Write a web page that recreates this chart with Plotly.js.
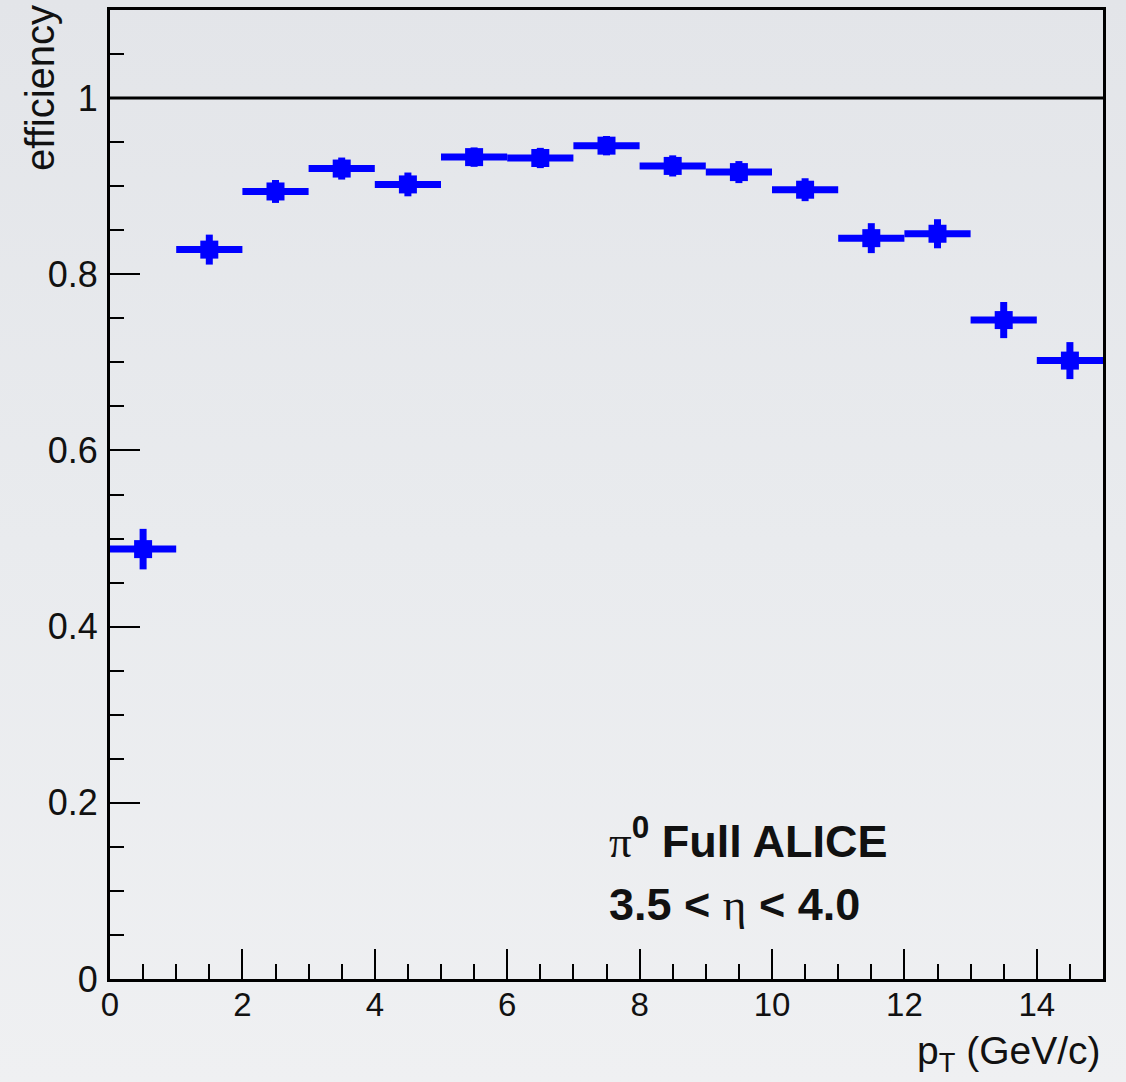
<!DOCTYPE html>
<html>
<head>
<meta charset="utf-8">
<script src="https://cdn.plot.ly/plotly-3.0.1.min.js"></script>
<style>
  html, body { margin: 0; padding: 0; }
  body { width: 1126px; height: 1082px; background: linear-gradient(to bottom, #e3e5e9 0%, #e9ebee 50%, #eff0f2 100%); }
  #chart { width: 1126px; height: 1082px; }
</style>
</head>
<body>
<div id="chart"></div>
<script>
// pT bin centres (GeV/c), bin half-widths, efficiency values and their errors
const ptCenters = [0.5, 1.5, 2.5, 3.5, 4.5, 5.5, 6.5, 7.5, 8.5, 9.5, 10.5, 11.5, 12.5, 13.5, 14.5];
const ptHalfWidth = [0.5, 0.5, 0.5, 0.5, 0.5, 0.5, 0.5, 0.5, 0.5, 0.5, 0.5, 0.5, 0.5, 0.5, 0.5];
const efficiency = [0.488, 0.828, 0.894, 0.920, 0.902, 0.933, 0.932, 0.946, 0.923, 0.916, 0.896, 0.841, 0.846, 0.748, 0.702];
const efficiencyErr = [0.023, 0.017, 0.013, 0.0125, 0.0135, 0.011, 0.0115, 0.011, 0.012, 0.0125, 0.013, 0.017, 0.0165, 0.0205, 0.021];
const referenceLevel = 1;
const xRange = [0, 15];
const yRange = [0, 1.1];

const trace = {
  type: 'scatter',
  mode: 'markers',
  x: ptCenters,
  y: efficiency,
  marker: { symbol: 'square', size: 18, color: '#0000ff', line: { width: 0 } },
  error_x: { type: 'data', array: ptHalfWidth, visible: true, thickness: 7, width: 0, color: '#0000ff' },
  error_y: { type: 'data', array: efficiencyErr, visible: true, thickness: 7, width: 0, color: '#0000ff' },
  showlegend: false,
  hoverinfo: 'x+y'
};

const axisCommon = {
  showgrid: false,
  zeroline: false,
  showline: true,
  mirror: true,
  linecolor: '#000',
  linewidth: 3,
  ticks: 'inside',
  tickcolor: '#000',
  tickwidth: 2,
  ticklen: 30,
};

const layout = {
  width: 1126,
  height: 1082,
  margin: { l: 110, r: 23, t: 10, b: 103 },
  paper_bgcolor: 'rgba(0,0,0,0)',
  plot_bgcolor: 'rgba(0,0,0,0)',
  font: { family: 'Liberation Sans, Arial, Helvetica, sans-serif', color: '#000' },
  xaxis: Object.assign({}, axisCommon, {
    range: xRange,
    dtick: 2,
    tick0: 0,
    tickfont: { size: 33, family: 'Liberation Sans, Arial, sans-serif', color: '#111' },
    minor: { dtick: 0.5, ticklen: 15, tickwidth: 2, tickcolor: '#000', ticks: 'inside' },
    ticklabelstandoff: -6
  }),
  yaxis: Object.assign({}, axisCommon, {
    range: yRange,
    dtick: 0.2,
    tick0: 0,
    tickfont: { size: 36, family: 'Liberation Sans, Arial, sans-serif', color: '#111' },
    minor: { dtick: 0.05, ticklen: 14, tickwidth: 2, tickcolor: '#000', ticks: 'inside' },
    ticklabelstandoff: 2
  }),
  shapes: [{
    type: 'line', xref: 'paper', x0: 0, x1: 1, yref: 'y', y0: referenceLevel, y1: referenceLevel,
    line: { color: '#000', width: 3 }
  }],
  annotations: [
    {
      text: 'efficiency', textangle: -90,
      xref: 'paper', x: 0, xanchor: 'right', xshift: -46,
      yref: 'paper', y: 1, yanchor: 'top', yshift: 7,
      showarrow: false, font: { size: 40, color: '#111' }
    },
    {
      text: 'p<sub>T</sub> (GeV/c)',
      xref: 'paper', x: 1, xanchor: 'right', xshift: 0,
      yref: 'paper', y: 0, yanchor: 'top', yshift: -48,
      showarrow: false, font: { size: 39, color: '#111' }
    },
    {
      text: '<span style="font-family:\'Liberation Serif\', serif;font-weight:normal">π</span><b><sup>0</sup> Full ALICE</b>',
      xref: 'paper', x: 0.5, xanchor: 'left',
      yref: 'paper', y: 0.1455, yanchor: 'middle',
      showarrow: false, font: { size: 45, color: '#111' }
    },
    {
      text: '<b>3.5 &lt; </b><span style="font-family:\'Liberation Serif\', serif;font-weight:normal">η</span><b> &lt; 4.0</b>',
      xref: 'paper', x: 0.5, xanchor: 'left',
      yref: 'paper', y: 0.0764, yanchor: 'middle',
      showarrow: false, font: { size: 45, color: '#111' }
    }
  ]
};

Plotly.newPlot('chart', [trace], layout, { displayModeBar: false, staticPlot: true });
</script>
</body>
</html>
